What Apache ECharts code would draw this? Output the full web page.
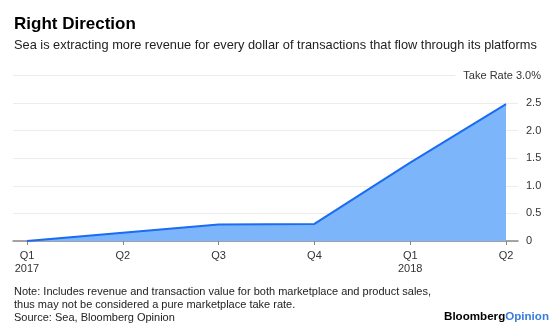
<!DOCTYPE html>
<html>
<head>
<meta charset="utf-8">
<script src="https://cdn.jsdelivr.net/npm/echarts@6/dist/echarts.min.js"></script>
<style>
  html, body { margin: 0; padding: 0; background: #fff; }
  #chart { width: 560px; height: 330px; }
</style>
</head>
<body>
<div id="chart"></div>
<script>
// Quarter labels (second line marks the year)
const quarters = ['Q1\n2017', 'Q2', 'Q3', 'Q4', 'Q1\n2018', 'Q2'];
// Take rate, percent
const takeRate = [0, 0.15, 0.30, 0.31, 1.42, 2.48];
// Y axis ticks
const yTicks = [0, 0.5, 1.0, 1.5, 2.0, 2.5, 3.0];
const yMax = 3;
const yLabelTop = 'Take Rate 3.0%';

const FONT = '"Liberation Sans", Arial, sans-serif';
const idx = quarters.map((_, i) => i);

const chart = echarts.init(document.getElementById('chart'), null, { renderer: 'canvas' });

chart.setOption({
  animation: false,
  backgroundColor: '#fff',
  textStyle: { fontFamily: FONT },
  title: [
    {
      text: 'Right Direction',
      left: 14, top: 16, padding: 0,
      textStyle: { fontFamily: FONT, fontSize: 17, fontWeight: 'bold', color: '#000' }
    },
    {
      text: 'Sea is extracting more revenue for every dollar of transactions that flow through its platforms',
      left: 14, top: 39, padding: 0,
      textStyle: { fontFamily: FONT, fontSize: 12.8, fontWeight: 'normal', color: '#222' }
    },
    {
      text: 'Note: Includes revenue and transaction value for both marketplace and product sales,\nthus may not be considered a pure marketplace take rate.\nSource: Sea, Bloomberg Opinion',
      left: 14, top: 286, padding: 0,
      textStyle: { fontFamily: FONT, fontSize: 11, fontWeight: 'normal', color: '#222', lineHeight: 12.8 }
    },
    {
      text: '{a|Bloomberg}{b|Opinion}',
      right: 11, top: 311, padding: 0,
      textStyle: {
        rich: {
          a: { fontFamily: FONT, fontSize: 11.6, fontWeight: 'bold', color: '#000' },
          b: { fontFamily: FONT, fontSize: 11.6, fontWeight: 'bold', color: '#3b7ddd' }
        }
      }
    }
  ],
  grid: { left: 13, right: 42, top: 75.5, bottom: 89, containLabel: false },
  xAxis: {
    type: 'value',
    min: -0.146,
    max: 5.125,
    splitLine: { show: false },
    axisLine: { show: true, onZero: false, lineStyle: { color: '#888', width: 1.5 } },
    axisTick: { show: true, length: 4, customValues: idx, lineStyle: { color: '#888' } },
    axisLabel: {
      customValues: idx,
      formatter: v => quarters[Math.round(v)],
      fontFamily: FONT, fontSize: 11, color: '#333', lineHeight: 13, margin: 8
    }
  },
  yAxis: [
    {
      type: 'value',
      position: 'right',
      min: yTicks[0], max: yMax, interval: 0.5,
      axisLine: { show: false },
      axisTick: { show: false },
      splitLine: { show: true, lineStyle: { color: '#ececec', width: 1 } },
      axisLabel: {
        align: 'left', margin: 8,
        fontFamily: FONT, fontSize: 11, color: '#333',
        formatter: v => (v === yMax ? '' : (v === 0 ? '0' : v.toFixed(1)))
      }
    },
    {
      type: 'value',
      position: 'right',
      min: yTicks[0], max: yMax, interval: 0.5,
      axisLine: { show: false },
      axisTick: { show: false },
      splitLine: { show: false },
      axisLabel: {
        align: 'right', margin: 23,
        fontFamily: FONT, fontSize: 11, color: '#333',
        formatter: v => (v === yMax ? '{t|' + yLabelTop + '}' : ''),
        rich: {
          t: {
            fontFamily: FONT, fontSize: 11, color: '#333',
            backgroundColor: '#fff', padding: [2, 0, 2, 8]
          }
        }
      }
    }
  ],
  series: [
    {
      type: 'line',
      yAxisIndex: 0,
      data: takeRate.map((v, i) => [i, v]),
      symbol: 'none',
      lineStyle: { color: '#1a6cf0', width: 2 },
      areaStyle: { color: '#7db5fb', opacity: 1 },
      z: 3
    }
  ]
});
</script>
</body>
</html>
